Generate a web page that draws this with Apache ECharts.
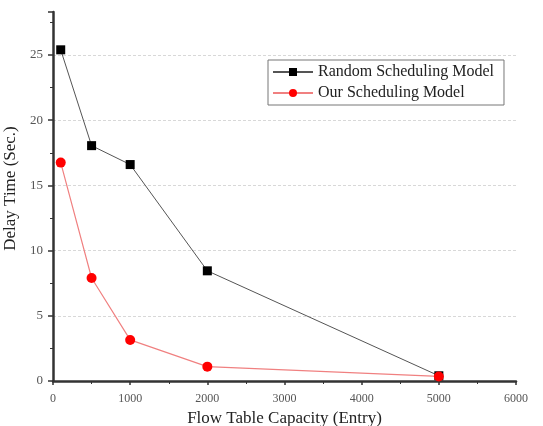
<!DOCTYPE html>
<html><head><meta charset="utf-8">
<script src="https://cdn.jsdelivr.net/npm/echarts@6/dist/echarts.min.js"></script>
<style>html,body{margin:0;padding:0;background:#fff}#c{width:543px;height:426px}</style>
</head><body><div id="c"></div>
<script>
const capacities = [100, 500, 1000, 2000, 5000];
const randomDelay = [25.4, 18.05, 16.6, 8.45, 0.4];
const ourDelay = [16.75, 7.9, 3.15, 1.1, 0.35];
const seriesNames = ['Random Scheduling Model', 'Our Scheduling Model'];
const xTicks = [0, 1000, 2000, 3000, 4000, 5000, 6000];
const yTicks = [0, 5, 10, 15, 20, 25];

const font = 'Liberation Serif';
const chart = echarts.init(document.getElementById('c'));
chart.setOption({
  animation: false,
  backgroundColor: '#fff',
  grid: {left: 53, right: 27, top: 12, bottom: 45, outerBoundsMode: 'none'},
  legend: {
    left: 268, top: 60, orient: 'vertical', itemGap: 5,
    itemWidth: 40, itemHeight: 10,
    borderColor: '#777', borderWidth: 1, padding: [4, 10, 4, 4],
    textStyle: {fontFamily: font, fontSize: 16, color: '#222'},
    data: seriesNames
  },
  xAxis: {
    type: 'value', min: xTicks[0], max: xTicks[xTicks.length - 1], interval: 1000,
    name: 'Flow Table Capacity (Entry)', nameLocation: 'middle', nameGap: 26,
    nameTextStyle: {fontFamily: font, fontSize: 17, color: '#222'},
    axisLine: {lineStyle: {color: '#333', width: 2.5}},
    axisTick: {inside: false, length: 4, lineStyle: {color: '#333', width: 1.5}},
    minorTick: {show: true, splitNumber: 2, length: 3, lineStyle: {color: '#333'}},
    axisLabel: {fontFamily: font, fontSize: 12, color: '#555', margin: 12,
      formatter: v => String(v)},
    splitLine: {show: false}
  },
  yAxis: {
    type: 'value', min: yTicks[0], max: 28.3, interval: 5,
    name: 'Delay Time (Sec.)', nameLocation: 'middle', nameGap: 34,
    nameTextStyle: {fontFamily: font, fontSize: 17, color: '#222', padding: [0, 0, 0, 16]},
    axisLine: {show: true, lineStyle: {color: '#333', width: 2.5}},
    axisTick: {show: true, length: 5, lineStyle: {color: '#333', width: 1.5}},
    minorTick: {show: true, splitNumber: 2, length: 3, lineStyle: {color: '#333'}},
    axisLabel: {fontFamily: font, fontSize: 13, color: '#555', margin: 10,
      showMaxLabel: false,
      formatter: v => (yTicks.includes(v) ? String(v) : '')},
    splitLine: {show: true, showMaxLine: false,
      lineStyle: {color: '#d8d8d8', type: [3, 2], width: 1}}
  },
  series: [
    {
      name: seriesNames[0], type: 'line',
      data: capacities.map((c, i) => [c, randomDelay[i]]),
      symbol: 'rect', symbolSize: 9,
      lineStyle: {color: '#555', width: 1},
      itemStyle: {color: '#000'}
    },
    {
      name: seriesNames[1], type: 'line',
      data: capacities.map((c, i) => [c, ourDelay[i]]),
      symbol: 'circle', symbolSize: 10,
      lineStyle: {color: '#f08080', width: 1.2},
      itemStyle: {color: '#f00'}
    }
  ]
});
</script></body></html>
